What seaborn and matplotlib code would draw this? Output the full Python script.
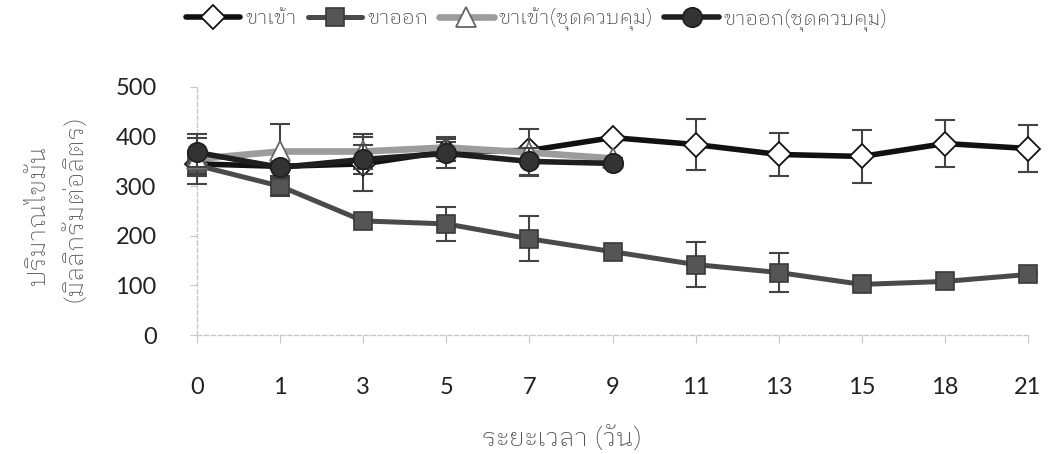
import matplotlib
matplotlib.use("Agg")
import matplotlib.pyplot as plt
from matplotlib.lines import Line2D
import seaborn as sns
import pandas as pd

# ---------------- data ----------------
days = ["0", "1", "3", "5", "7", "9", "11", "13", "15", "18", "21"]
ctrl_days = ["0", "1", "3", "5", "7", "9"]

inlet = [345, 340, 345, 370, 372, 398, 384, 364, 360, 386, 376]
inlet_err = [25, 0, 55, 20, 0, 0, 52, 43, 53, 48, 48]

outlet = [342, 300, 230, 224, 194, 168, 142, 126, 102, 108, 122]
outlet_err = [20, 20, 0, 35, 45, 0, 45, 40, 0, 0, 0]

inlet_ctrl = [355, 370, 370, 378, 368, 356]
inlet_ctrl_err = [50, 56, 36, 22, 48, 0]

outlet_ctrl = [368, 338, 354, 366, 350, 346]
outlet_ctrl_err = [30, 0, 30, 30, 28, 0]

labels = ["ขาเข้า", "ขาออก", "ขาเข้า(ชุดควบคุม)", "ขาออก(ชุดควบคุม)"]
y_ticks = [0, 100, 200, 300, 400, 500]
x_title = "ระยะเวลา (วัน)"
y_title = ["ปริมาณไขมัน", "(มิลลิกรัมต่อลิตร)"]

# ---------------- style ----------------
sns.set_theme(style="white")
THAI = ["IBM Plex Sans Thai Looped", "Noto Sans Thai Looped", "DejaVu Sans"]
NUM = ["Lato", "DejaVu Sans"]
plt.rcParams["font.family"] = NUM

fig = plt.figure(figsize=(10.54, 4.54), dpi=100)
W, H = 1054, 454
X0, X1, Y0, Y1 = 197, 1028, 335, 87
ax = fig.add_axes([X0 / W, 1 - Y0 / H, (X1 - X0) / W, (Y0 - Y1) / H])

pos = {d: i for i, d in enumerate(days)}


def frame(xs, ys, errs):
    return pd.DataFrame({"x": [pos[d] for d in xs], "y": ys, "e": errs})


series = [
    dict(df=frame(days, inlet, inlet_err), color="#111111", lw=4.0, marker="D",
         mfc="white", mec="#111111", ms=12, mew=1.3, z=3),
    dict(df=frame(days, outlet, outlet_err), color="#4a4a4a", lw=3.6, marker="s",
         mfc="#555555", mec="#3a3a3a", ms=13, mew=1.2, z=4),
    dict(df=frame(ctrl_days, inlet_ctrl, inlet_ctrl_err), color="#9c9c9c", lw=4.8, marker="^",
         mfc="white", mec="#666666", ms=14, mew=1.3, z=5),
    dict(df=frame(ctrl_days, outlet_ctrl, outlet_ctrl_err), color="#1e1e1e", lw=4.0, marker="o",
         mfc="#333333", mec="#1e1e1e", ms=14, mew=1.2, z=6),
]

for s in series:
    df = s["df"]
    ax.errorbar(df["x"], df["y"], yerr=df["e"], fmt="none", ecolor="#444444",
                elinewidth=1.5, capsize=7, capthick=1.5, zorder=s["z"] - 0.5, clip_on=False)
    sns.lineplot(data=df, x="x", y="y", ax=ax, color=s["color"], lw=s["lw"],
                 marker=s["marker"], markerfacecolor=s["mfc"], markeredgecolor=s["mec"],
                 markersize=s["ms"], markeredgewidth=s["mew"], zorder=s["z"],
                 clip_on=False, legend=False)

ax.set_xlim(0, len(days) - 1)
ax.set_ylim(0, 500)
ax.set_xticks(range(len(days)))
ax.set_xticklabels(days)
ax.set_yticks(y_ticks)
ax.set_yticklabels([str(v) for v in y_ticks])
ax.set_xlabel("")
ax.set_ylabel("")

for side in ["top", "right"]:
    ax.spines[side].set_visible(False)
for side in ["left", "bottom"]:
    ax.spines[side].set_color("#c8c8c8")
    ax.spines[side].set_linestyle((0, (3, 2)))
    ax.spines[side].set_linewidth(1.0)

ax.tick_params(axis="x", which="both", bottom=True, length=6, width=0.8, color="#c8c8c8",
               labelsize=17, labelcolor="#222222", pad=24)
ax.tick_params(axis="y", which="both", left=True, length=5, width=0.8, color="#c8c8c8",
               labelsize=17, labelcolor="#222222", pad=24)
ax.grid(False)

# axis titles
fig.text(562 / W, 1 - 438 / H, x_title, ha="center", va="center", fontsize=19,
         color="#444444", family=THAI, fontweight="light")
fig.text(38 / W, 1 - 215 / H, y_title[0], ha="center", va="center", rotation=90,
         fontsize=18, color="#505050", family=THAI, fontweight="light")
fig.text(74 / W, 1 - 208 / H, y_title[1], ha="center", va="center", rotation=90,
         fontsize=18, color="#505050", family=THAI, fontweight="light")

# legend
handles = [
    Line2D([], [], color=s["color"], lw=s["lw"], marker=s["marker"], markerfacecolor=s["mfc"],
           markeredgecolor=s["mec"], markersize=s["ms"], markeredgewidth=s["mew"])
    for s in series
]
leg = fig.legend(handles, labels, loc="center left", bbox_to_anchor=(186 / W, 1 - 19 / H), ncol=4,
                 frameon=False, handlelength=2.7, handletextpad=0.25, columnspacing=0.55,
                 borderaxespad=0, borderpad=0,
                 prop={"family": THAI, "size": 14.5, "weight": "light"})
for t in leg.get_texts():
    t.set_color("#222222")

fig.savefig("out.png", dpi=100)
